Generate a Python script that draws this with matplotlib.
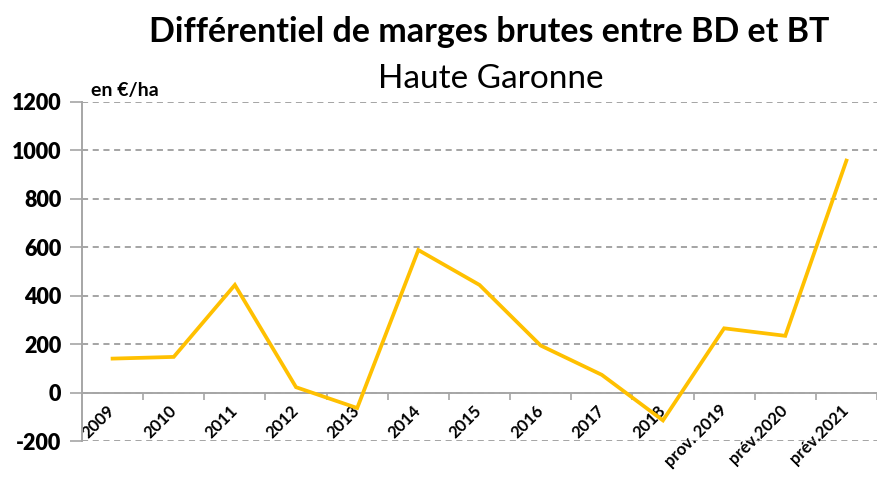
import matplotlib
matplotlib.use("Agg")
import matplotlib.pyplot as plt
from matplotlib.ticker import FixedLocator

plt.rcParams['font.family'] = ['Lato', 'DejaVu Sans']

categories = ["2009", "2010", "2011", "2012", "2013", "2014", "2015", "2016",
              "2017", "2018", "prov. 2019", "prév.2020", "prév.2021"]
values = [140, 147, 444, 22, -64, 588, 444, 194, 73, -115, 265, 234, 957]
yticks = [-200, 0, 200, 400, 600, 800, 1000, 1200]

title = "Différentiel de marges brutes entre BD et BT"
subtitle = "Haute Garonne"
unit = "en €/ha"

fig = plt.figure(figsize=(8.77, 4.78), dpi=100)
ax = fig.add_axes([0.0935, 0.0774, 0.9065, 0.7098])

x = list(range(len(categories)))
ax.plot(x, values, color="#FFC000", linewidth=2.7, solid_joinstyle="miter", zorder=3)

ax.set_xlim(-0.5, len(categories) - 0.5)
ax.set_ylim(-200, 1200)
ax.set_yticks(yticks)
ax.set_yticklabels([str(v) for v in yticks], fontsize=15.5, fontweight="heavy")
ax.tick_params(axis="y", length=9, color="#A6A6A6", width=1.2, pad=6)

ax.grid(axis="y", linestyle=(0, (4, 3)), color="#8C8C8C", linewidth=1.1, zorder=1)

for s in ["top", "right"]:
    ax.spines[s].set_visible(False)
ax.spines["left"].set_color("#A6A6A6")
ax.spines["left"].set_linewidth(1.4)
ax.spines["bottom"].set_position(("data", 0))
ax.spines["bottom"].set_color("#A6A6A6")
ax.spines["bottom"].set_linewidth(1.4)

ax.set_xticks(x)
ax.set_xticklabels(categories, fontsize=12, fontweight="bold", rotation=45,
                   ha="right", va="center", rotation_mode="anchor")
ax.tick_params(axis="x", which="major", length=0, pad=11)
ax.xaxis.set_minor_locator(FixedLocator([k + 0.5 for k in range(len(categories))]))
ax.tick_params(axis="x", which="minor", length=5, color="#A6A6A6", width=1.2, direction="out")

fig.text(0.5576, 0.912, title, ha="center", va="baseline", fontsize=24.5, fontweight="bold")
fig.text(0.560, 0.816, subtitle, ha="center", va="baseline", fontsize=24)
fig.text(0.104, 0.800, unit, ha="left", va="baseline", fontsize=14, fontweight="bold")

fig.savefig("out.png", dpi=100)
